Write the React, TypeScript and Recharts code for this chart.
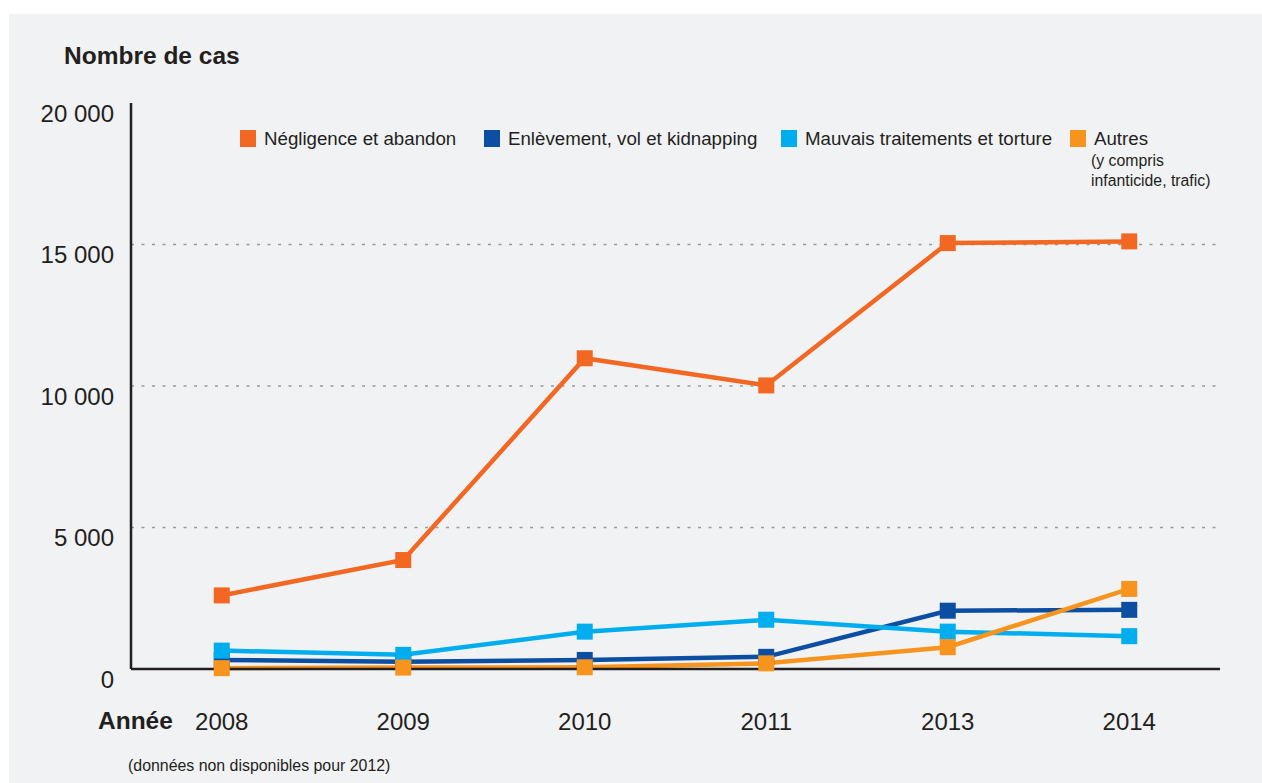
import React from "react";
import { LineChart, Line, XAxis, YAxis, ReferenceLine } from "recharts";

const years = ["2008", "2009", "2010", "2011", "2013", "2014"];
const negligence = [2600, 3850, 10980, 10020, 15050, 15110];
const enlevement = [320, 260, 320, 430, 2060, 2090];
const mauvais = [650, 500, 1320, 1740, 1320, 1160];
const autres = [30, 50, 60, 200, 770, 2830];

const yTicks = [0, 5000, 10000, 15000, 20000];
const gridValues = [5000, 10000, 15000];

const series = [
  { key: "negligence", label: "Négligence et abandon", color: "#f26722", values: negligence },
  { key: "enlevement", label: "Enlèvement, vol et kidnapping", color: "#0c4ea2", values: enlevement },
  { key: "mauvais", label: "Mauvais traitements et torture", color: "#00aeef", values: mauvais },
  { key: "autres", label: "Autres", color: "#f7941d", values: autres },
];

const data = years.map((year, i) => {
  const row: Record<string, string | number> = { year };
  series.forEach((s) => {
    row[s.key] = s.values[i];
  });
  return row;
});

const FONT = '"Liberation Sans", Arial, Helvetica, sans-serif';
const INK = "#231f20";
const legendLeft = [240, 484, 781, 1070];

const fmt = (v: number) => (v >= 1000 ? `${Math.floor(v / 1000)} ${String(v % 1000).padStart(3, "0")}` : String(v));

const YTick = (props: any) => {
  const { x, y, payload } = props;
  return (
    <text x={x} y={y + 10} textAnchor="end" dominantBaseline="central" fontSize={24} fill={INK} fontFamily={FONT}>
      {fmt(payload.value)}
    </text>
  );
};

const XTick = (props: any) => {
  const { x, y, payload } = props;
  return (
    <text x={x} y={y + 52} textAnchor="middle" dominantBaseline="central" fontSize={24} fill={INK} fontFamily={FONT}>
      {payload.value}
    </text>
  );
};

const squareDot = (color: string) => (props: any) => {
  const { cx, cy, index } = props;
  if (cx == null || cy == null) return <g key={index} />;
  return <rect key={index} x={cx - 8} y={cy - 8} width={16} height={16} fill={color} />;
};

const App = () => {
  return (
    <div style={{ position: "absolute", left: 0, top: 0, width: 1262, height: 783, background: "#fff", fontFamily: FONT, color: INK }}>
      <div style={{ position: "absolute", left: 9, top: 14, width: 1253, height: 769, background: "#f1f2f4" }} />
      <div style={{ position: "absolute", left: 64, top: 41, fontSize: 24.5, fontWeight: "bold", lineHeight: "30px" }}>
        Nombre de cas
      </div>
      <div style={{ position: "absolute", left: 98, top: 706, fontSize: 24.5, fontWeight: "bold", lineHeight: "30px" }}>
        Année
      </div>
      <div style={{ position: "absolute", left: 128, top: 756, fontSize: 15.9, lineHeight: "20px" }}>
        (données non disponibles pour 2012)
      </div>
      {series.map((s, i) => (
        <div key={s.key} style={{ position: "absolute", left: legendLeft[i], top: 129, fontSize: 18.7, lineHeight: "20px" }}>
          <span style={{ position: "absolute", left: 0, top: 1, width: 16, height: 17, background: s.color }} />
          <span style={{ position: "absolute", left: 24, top: 0, whiteSpace: "nowrap" }}>{s.label}</span>
          {s.key === "autres" && (
            <div style={{ position: "absolute", left: 21, top: 22, fontSize: 15.8, lineHeight: "20px", whiteSpace: "nowrap" }}>
              (y compris
              <br />
              infanticide, trafic)
            </div>
          )}
        </div>
      ))}
      <div style={{ position: "absolute", left: 0, top: 0 }}>
        <LineChart width={1262} height={783} data={data} margin={{ top: 103, right: 42, bottom: 84, left: 71 }}>
          {gridValues.map((v) => (
            <ReferenceLine key={v} y={v} stroke="#9a9a9a" strokeWidth={1.5} strokeDasharray="3 7.5" />
          ))}
          <XAxis
            dataKey="year"
            scale="band"
            height={30}
            tickLine={false}
            tickSize={0}
            tickMargin={0}
            axisLine={{ stroke: INK, strokeWidth: 2.5 }}
            tick={<XTick />}
            interval={0}
          />
          <YAxis
            width={60}
            domain={[0, 20000]}
            ticks={yTicks}
            tickLine={false}
            tickSize={0}
            tickMargin={17}
            axisLine={{ stroke: INK, strokeWidth: 2.5 }}
            tick={<YTick />}
            interval={0}
          />
          {series.map((s) => (
            <Line
              key={s.key}
              dataKey={s.key}
              stroke={s.color}
              strokeWidth={4.5}
              dot={squareDot(s.color)}
              activeDot={false}
              isAnimationActive={false}
            />
          ))}
        </LineChart>
      </div>
    </div>
  );
};

export default App;
